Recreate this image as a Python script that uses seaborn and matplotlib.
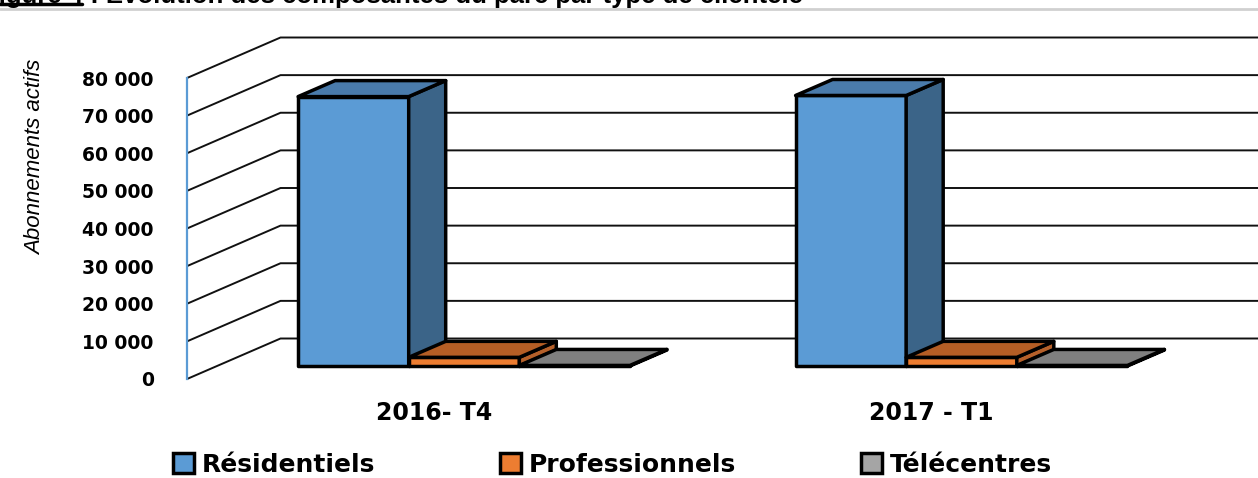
import matplotlib
matplotlib.use('Agg')
import matplotlib.pyplot as plt
import seaborn as sns
import pandas as pd
from matplotlib.patches import Polygon, Patch
from matplotlib.lines import Line2D
from matplotlib.transforms import Affine2D

# Data
periodes = ['2016- T4', '2017 - T1']
types = ['Résidentiels', 'Professionnels', 'Télécentres']
residentiels = [71600, 71900]
professionnels = [2300, 2300]
telecentres = [150, 150]
yticks = list(range(0, 80001, 10000))

front_colors = ['#5B9BD5', '#ED7D31', '#A5A5A5']
top_colors = ['#4A7BAB', '#B55E25', '#7F7F7F']
side_colors = ['#3B6488', '#B5602A', '#6F6F6F']

df = pd.DataFrame({
    'periode': periodes * 3,
    'type': [t for t in types for _ in periodes],
    'abonnements': residentiels + professionnels + telecentres,
})

sns.set_theme(style='white')
plt.rcParams['font.family'] = ['DejaVu Sans']
plt.rcParams['text.color'] = 'black'

W, H = 1258, 478
fig = plt.figure(figsize=(W / 100, H / 100), dpi=100)
ax = fig.add_axes([187 / W, 99 / H, (1164 - 187) / W, 301 / H])

sns.barplot(data=df, x='periode', y='abonnements', hue='type', palette=front_colors,
            saturation=1, width=0.667, edgecolor='black', linewidth=2.5,
            legend=False, ax=ax)

# pseudo-3D geometry (pixel sizes converted to data units)
px_x = 497.5           # px per category step
px_y = 301 / 80000     # px per subscriber
wall_dx, wall_dy = 93.5 / px_x, 40.5 / px_y
bar_sx, bar_sy = 30 / px_x, 13 / px_y
bar_dx, bar_dy = 37 / px_x, 16 / px_y

ax.set_xlim((187 - 434) / px_x, (1164 - 434) / px_x)
ax.set_ylim(0, 80000)

# side wall + back wall grid lines
xl = ax.get_xlim()[0]
for v in yticks:
    ax.plot([xl, xl + wall_dx, 4], [v, v + wall_dy, v + wall_dy],
            color='#111111', lw=1.4, clip_on=False, zorder=1)

# extrude the bars
bars = []
for hi, cont in enumerate(ax.containers):
    for p in cont:
        bars.append((p.get_x(), hi, p))
bars.sort(key=lambda b: b[0])

shift = Affine2D().translate(bar_sx, bar_sy) + ax.transData
for k, (_, hi, p) in enumerate(bars):
    z = 3 + k
    p.set_transform(shift)
    p.set_zorder(z)
    p.set_clip_on(False)
    p.set_joinstyle('round')
    x0 = p.get_x() + bar_sx
    x1 = x0 + p.get_width()
    y0 = p.get_y() + bar_sy
    y1 = y0 + p.get_height()
    top = [(x0, y1), (x1, y1), (x1 + bar_dx, y1 + bar_dy), (x0 + bar_dx, y1 + bar_dy)]
    side = [(x1, y0), (x1 + bar_dx, y0 + bar_dy), (x1 + bar_dx, y1 + bar_dy), (x1, y1)]
    for pts, col in [(side, side_colors[hi]), (top, top_colors[hi])]:
        ax.add_patch(Polygon(pts, closed=True, facecolor=col, edgecolor='black',
                             lw=2.5, joinstyle='round', zorder=z, clip_on=False))

# axes styling
ax.set_yticks(yticks)
ax.set_yticklabels([f'{v:,}'.replace(',', ' ') for v in yticks],
                   fontsize=13.5, fontweight='bold')
ax.tick_params(axis='y', length=0, pad=24, colors='black')
ax.tick_params(axis='x', length=0, pad=16, labelsize=17, colors='black')
for lbl in ax.get_xticklabels():
    lbl.set_fontweight('bold')
ax.set_xlabel('')
ax.set_ylabel('')
for s in ['top', 'right', 'bottom']:
    ax.spines[s].set_visible(False)
ax.spines['left'].set_color('#5B9BD5')
ax.spines['left'].set_linewidth(1.6)
ax.set_facecolor('none')

fig.text(36 / W, 1 - 157 / H, 'Abonnements actifs', rotation=90, ha='center', va='center',
         fontsize=16, style='italic', family=['Liberation Sans', 'DejaVu Sans'])

handles = [Patch(facecolor=c, edgecolor='black', linewidth=2.5) for c in front_colors]
fig.legend(handles, types, loc='center', bbox_to_anchor=(612 / W, 1 - 465 / H), ncol=3,
           frameon=False, prop={'weight': 'bold', 'size': 18}, handlelength=0.85,
           handleheight=0.85, handletextpad=0.3, columnspacing=5)

# cropped caption at the very top
fig.text(803 / W, 1 - 2.5 / H, 'Figure 4 : Evolution des composantes du parc par type de clientèle',
         ha='right', va='baseline', fontsize=18.5, fontweight='bold',
         family=['Liberation Sans', 'DejaVu Sans'])
fig.add_artist(Line2D([0, 82 / W], [1 - 4 / H] * 2, color='black', lw=2.5,
                      transform=fig.transFigure))
fig.add_artist(Line2D([0, 1], [1 - 8.5 / H] * 2, color='#D0D0D0', lw=2,
                      transform=fig.transFigure))

fig.savefig('out.png', dpi=100)
